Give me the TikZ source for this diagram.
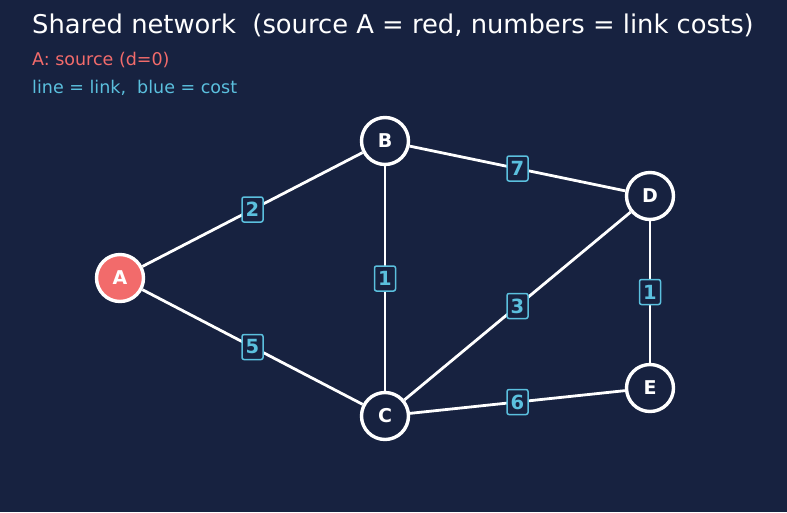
\documentclass[tikz,border=0pt]{standalone}
\usepackage{fontspec}
\setmainfont{DejaVu Sans}
\definecolor{bg}{HTML}{172240}
\definecolor{srcred}{HTML}{F26B6B}
\definecolor{cost}{HTML}{5BC0DE}
\begin{document}
\begin{tikzpicture}[x=1pt,y=-1pt,
  vert/.style={circle,draw=white,line width=3.4pt,fill=bg,minimum size=47pt,inner sep=0pt,text=white,font=\bfseries\fontsize{19}{19}\selectfont},
  src/.style={vert,fill=srcred},
  link/.style={draw=white,line width=2.8pt},
  costlbl/.style={draw=cost,fill=bg,rounded corners=2pt,line width=1.5pt,inner sep=1pt,minimum width=21pt,minimum height=25pt,text=cost,font=\bfseries\fontsize{19.5}{19.5}\selectfont}
]
\fill[bg] (0,0) rectangle (787,512);
\useasboundingbox (0,0) rectangle (787,512);
\node[font=\fontsize{25.8}{25.8}\selectfont,text=white,inner sep=0pt] (title) at (393,25) {Shared network\ \ (source A = red, numbers = link costs)};
\node[anchor=west,font=\fontsize{17.5}{17.5}\selectfont,text=srcred,inner sep=0pt] (l1) at (32,60) {A: source (d=0)};
\node[anchor=west,font=\fontsize{17.5}{17.5}\selectfont,text=cost,inner sep=0pt] (l2) at (32,88) {line = link,\ \ blue = cost};

\node[src] (A) at (120,278) {A};
\node[vert] (B) at (385,141) {B};
\node[vert] (C) at (385,416) {C};
\node[vert] (D) at (650,196) {D};
\node[vert] (E) at (650,388) {E};

\draw[link] (A) -- (B) node[costlbl,midway] (cAB) {2};
\draw[link] (A) -- (C) node[costlbl,midway] (cAC) {5};
\draw[link] (B) -- (C) node[costlbl,midway] (cBC) {1};
\draw[link] (B) -- (D) node[costlbl,midway] (cBD) {7};
\draw[link] (C) -- (D) node[costlbl,midway] (cCD) {3};
\draw[link] (C) -- (E) node[costlbl,midway] (cCE) {6};
\draw[link] (D) -- (E) node[costlbl,midway] (cDE) {1};
\end{tikzpicture}
\end{document}
